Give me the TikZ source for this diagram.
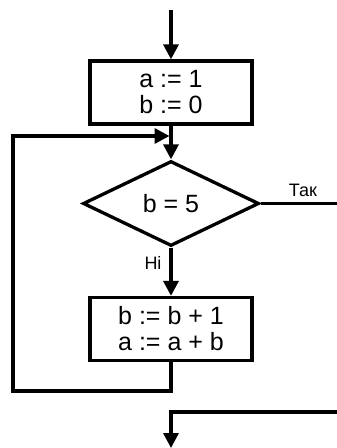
\documentclass[tikz,border=0pt]{standalone}
\usepackage{fontspec}
\setmainfont{Liberation Sans}
\usetikzlibrary{arrows.meta,shapes.geometric}
\begin{document}
\begin{tikzpicture}[x=1pt,y=-1pt,line width=3.3pt,
  >={Triangle[length=15pt,width=15pt]},
  box/.style={draw,rectangle,minimum width=162pt,minimum height=63pt,inner sep=0pt,align=center,font=\fontsize{25}{26}\selectfont},
  dia/.style={draw,diamond,minimum width=176pt,minimum height=85pt,inner sep=0pt,font=\fontsize{25}{26}\selectfont},
  lbl/.style={font=\fontsize{18}{20}\selectfont,inner sep=0pt}]
\useasboundingbox (0,0) rectangle (337,448);
\node[box] (b1) at (171,92.5) {a := 1\\b := 0};
\node[dia] (d) at (171,203.5) {b = 5};
\node[box] (b2) at (171,329) {b := b + 1\\a := a + b};
\coordinate (top) at (171,10);
\coordinate (join) at (171,136);
\coordinate (lb) at (171,391);
\coordinate (ll) at (13,391);
\coordinate (lt) at (13,136);
\coordinate (yes) at (337,203.5);
\coordinate (rin) at (337,412);
\coordinate (rc) at (171,412);
\coordinate (out) at (171,448);
\draw[->] (top) -- (b1.north);
\draw[->] (b1.south) -- (d.north);
\draw[->,line join=miter] (b2.south) -- (lb) -- (ll) -- (lt) -- ([xshift=-1.5pt]join);
\draw (d.east) -- (yes);
\draw[->] (d.south) -- (b2.north);
\draw[->,line join=miter] (rin) -- (rc) -- (out);
\node[lbl] at (303,190) {Так};
\node[lbl] at (153,263) {Ні};
\end{tikzpicture}
\end{document}
